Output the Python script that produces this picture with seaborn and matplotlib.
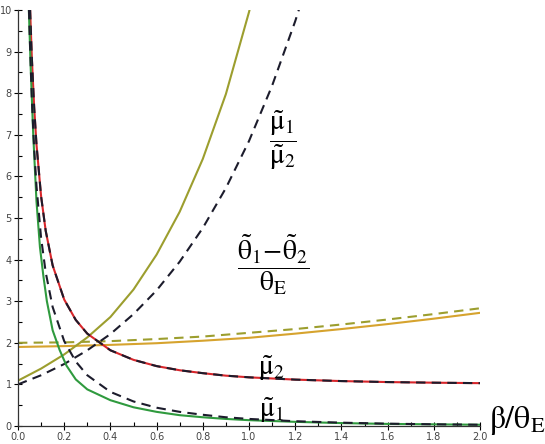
import numpy as np
import pandas as pd
import seaborn as sns
import matplotlib
matplotlib.use("Agg")
from matplotlib import pyplot as plt

# values (x = beta/theta_E)
x_ratio_fit = [0.0, 0.1, 0.2, 0.3, 0.4, 0.5, 0.6, 0.7, 0.8, 0.9, 1.0, 1.03]
ratio_fit = [1.09, 1.38, 1.72, 2.13, 2.62, 3.28, 4.12, 5.15, 6.42, 7.98, 9.95, 10.6]

x_ratio = [0.0, 0.1, 0.2, 0.3, 0.4, 0.5, 0.6, 0.7, 0.8, 0.9, 1.0, 1.1, 1.2, 1.25]
ratio = [1.0, 1.22, 1.49, 1.82, 2.21, 2.69, 3.26, 3.95, 4.76, 5.72, 6.85, 8.18, 9.73, 10.6]

x_sep = [0.0, 0.2, 0.4, 0.6, 0.8, 1.0, 1.2, 1.4, 1.6, 1.8, 2.0]
sep_fit = [1.90, 1.92, 1.95, 1.99, 2.05, 2.12, 2.22, 2.33, 2.45, 2.58, 2.72]
sep = [2.0, 2.01, 2.04, 2.09, 2.15, 2.24, 2.33, 2.44, 2.56, 2.69, 2.83]

x_mu2 = [0.0525, 0.06, 0.07, 0.08, 0.1, 0.12, 0.15, 0.2, 0.25, 0.3, 0.4, 0.5,
         0.6, 0.7, 0.8, 0.9, 1.0, 1.2, 1.4, 1.6, 1.8, 2.0]
mu2 = [10.0, 8.84, 7.66, 6.77, 5.52, 4.69, 3.86, 3.04, 2.55, 2.22, 1.82, 1.59,
       1.44, 1.34, 1.27, 1.21, 1.17, 1.115, 1.08, 1.056, 1.041, 1.03]

x_mu1_fit = [0.047, 0.055, 0.066, 0.08, 0.095, 0.11, 0.125, 0.15, 0.18, 0.21,
             0.25, 0.3, 0.4, 0.5, 0.6, 0.7, 0.8, 0.9, 1.0, 1.2, 1.4, 1.6, 1.8, 2.0]
mu1_fit = [10.0, 8.6, 7.0, 5.4, 4.3, 3.6, 3.0, 2.3, 1.83, 1.45, 1.12, 0.88,
           0.62, 0.45, 0.34, 0.26, 0.21, 0.17, 0.14, 0.1, 0.07, 0.05, 0.04, 0.03]

x_mu1 = [0.0475, 0.05, 0.06, 0.07, 0.08, 0.1, 0.12, 0.15, 0.2, 0.25, 0.3, 0.4,
         0.5, 0.6, 0.7, 0.8, 0.9, 1.0, 1.2, 1.4, 1.6, 1.8, 2.0]
mu1 = [10.0, 9.51, 7.84, 6.66, 5.77, 4.52, 3.69, 2.86, 2.04, 1.55, 1.22, 0.82,
       0.59, 0.44, 0.34, 0.27, 0.21, 0.17, 0.115, 0.08, 0.056, 0.041, 0.03]

x_ticks = [0.0, 0.2, 0.4, 0.6, 0.8, 1.0, 1.2, 1.4, 1.6, 1.8, 2.0]
y_ticks = [0, 1, 2, 3, 4, 5, 6, 7, 8, 9, 10]

OLIVE = "#9c9e2e"
GOLD = "#d6a32e"
RED = "#d8262b"
GREEN = "#2f9a3e"
DARK = "#1c1c2c"
DASH = (0, (4.5, 3.0))


def curve(ax, xs, ys, color, ls="-"):
    df = pd.DataFrame({"x": xs, "y": ys})
    sns.lineplot(x="x", y="y", data=df, color=color, linestyle=ls,
                 linewidth=1.5, ax=ax, sort=False)


def plotIt():
    plt.rcParams["mathtext.fontset"] = "stix"
    fig = plt.figure(figsize=(5.45, 4.44), dpi=100)
    ax = fig.add_axes([18 / 545, 18 / 444, 462 / 545, 416 / 444])

    curve(ax, x_sep, sep_fit, GOLD)
    curve(ax, x_sep, sep, OLIVE, DASH)
    curve(ax, x_ratio_fit, ratio_fit, OLIVE)
    curve(ax, x_ratio, ratio, DARK, DASH)
    curve(ax, x_mu2, mu2, RED)
    curve(ax, x_mu2, mu2, DARK, DASH)
    curve(ax, x_mu1_fit, mu1_fit, GREEN)
    curve(ax, x_mu1, mu1, DARK, DASH)

    ax.set_xlim(0, 2.0)
    ax.set_ylim(0, 10)
    ax.set_xticks(x_ticks)
    ax.set_xticklabels([f"{v:.1f}" for v in x_ticks])
    ax.set_yticks(y_ticks)
    ax.set_xticks(np.arange(0.1, 2.0, 0.2), minor=True)
    ax.set_yticks(np.arange(0.5, 10, 1.0), minor=True)
    ax.tick_params(which="major", direction="inout", length=6, width=0.8,
                   labelsize=7, labelcolor="#444444", pad=1.5)
    ax.tick_params(which="minor", direction="in", length=3, width=0.8)
    for s in ["top", "right"]:
        ax.spines[s].set_visible(False)
    for s in ["left", "bottom"]:
        ax.spines[s].set_linewidth(0.9)
        ax.spines[s].set_color("#333333")
    ax.set_xlabel("")
    ax.set_ylabel("")

    ax.text(1.147, 6.87, r"$\dfrac{\tilde{\mathrm{\mu}}_1}{\tilde{\mathrm{\mu}}_2}$",
            fontsize=20, ha="center", va="center")
    ax.text(1.104, 3.87,
            r"$\dfrac{\tilde{\mathrm{\theta}}_1\!-\!\tilde{\mathrm{\theta}}_2}{\mathrm{\theta}_{\mathrm{E}}}$",
            fontsize=20, ha="center", va="center")
    ax.text(1.095, 1.39, r"$\tilde{\mathrm{\mu}}_2$", fontsize=20,
            ha="center", va="center")
    ax.text(1.095, 0.38, r"$\tilde{\mathrm{\mu}}_1$", fontsize=20,
            ha="center", va="center")
    fig.text(489 / 545, 1 - 420 / 444, r"$\mathrm{\beta/\theta_E}$",
             fontsize=23, ha="left", va="center")

    plt.savefig("out.png", dpi=100)
    plt.close()


if __name__ == "__main__":
    plotIt()
